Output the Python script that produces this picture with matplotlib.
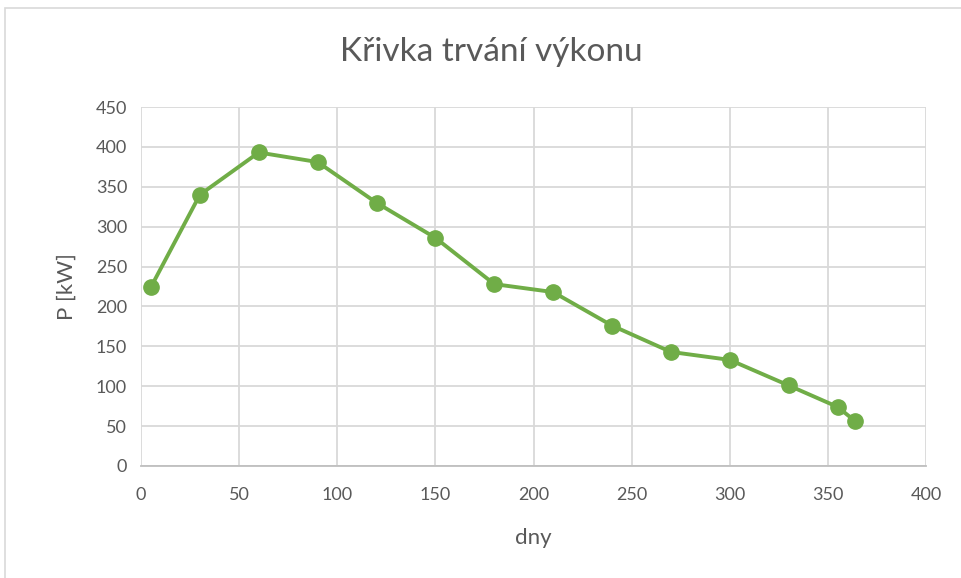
import matplotlib.pyplot as plt
from matplotlib.patches import Rectangle

# data
dny = [5, 30, 60, 90, 120, 150, 180, 210, 240, 270, 300, 330, 355, 364]
vykon = [224, 340, 393, 381, 330, 286, 228, 218, 176, 143, 133, 101, 74, 56]

plt.rcParams['font.family'] = ['Lato', 'DejaVu Sans']
txt = '#595959'

fig = plt.figure(figsize=(9.61, 5.78), dpi=100)
W, H = 961, 578
ax = fig.add_axes([141 / W, (H - 466) / H, (926 - 141) / W, (466 - 107) / H])

# chart border
fig.patches.append(Rectangle((5 / W, -0.1), 1.2, (H - 8) / H + 0.1, transform=fig.transFigure,
                             fill=False, edgecolor='#D9D9D9', linewidth=1.2))

ax.plot(dny, vykon, color='#70AD47', linewidth=2.8, marker='o', markersize=11, zorder=3, clip_on=False)

ax.set_xlim(0, 400)
ax.set_ylim(0, 450)
ax.set_xticks(range(0, 401, 50))
ax.set_yticks(range(0, 451, 50))
ax.grid(True, color='#D9D9D9', linewidth=1.3)
ax.set_axisbelow(True)
for s in ['top', 'right', 'left']:
    ax.spines[s].set_visible(False)
ax.spines['bottom'].set_color('#BFBFBF')
ax.spines['bottom'].set_linewidth(1.3)
ax.tick_params(length=0, labelsize=13, colors=txt)
ax.tick_params(axis='x', pad=15)
ax.tick_params(axis='y', pad=10)

ax.set_xlabel('dny', fontsize=16, color=txt, labelpad=18)
ax.set_ylabel('P [kW]', fontsize=16, color=txt, labelpad=14)
fig.text(491 / W, 1 - 52 / H, 'Křivka trvání výkonu', fontsize=24, color=txt, ha='center', va='center')

fig.savefig('out.png', dpi=100)
